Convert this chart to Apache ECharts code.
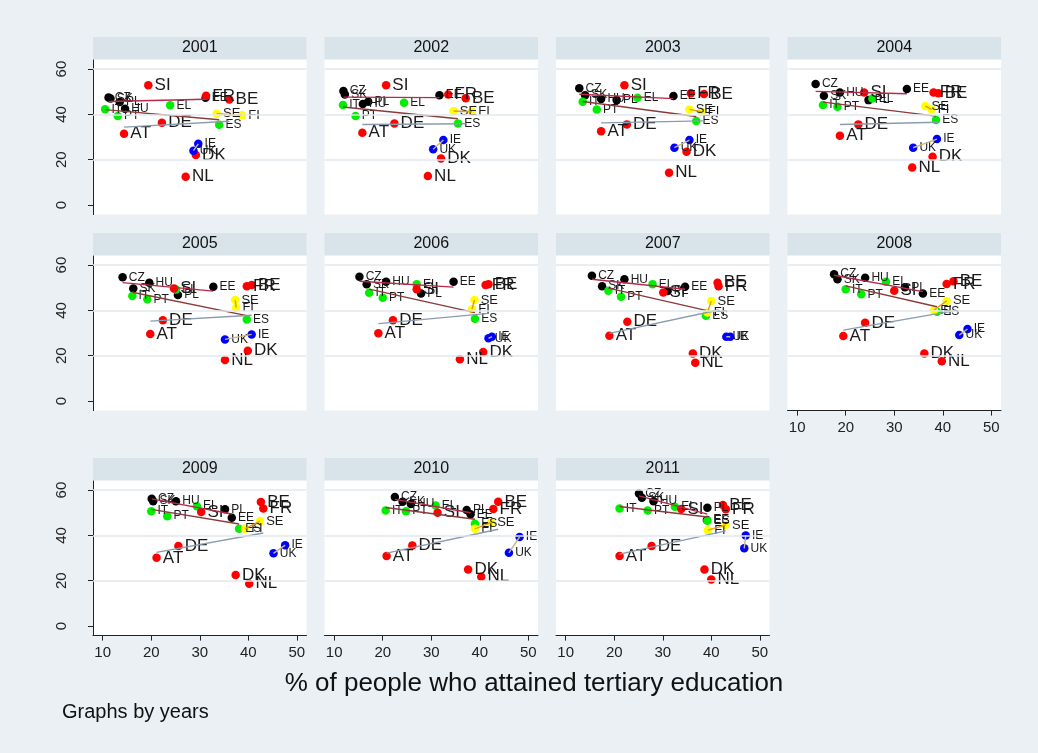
<!DOCTYPE html>
<html>
<head>
<meta charset="utf-8">
<title>Graphs by years</title>
<script src="https://cdn.jsdelivr.net/npm/echarts@6/dist/echarts.min.js"></script>
<style>
  html, body { margin: 0; padding: 0; background: #eaf0f3; }
  #main { width: 1038px; height: 753px; }
</style>
</head>
<body>
<div id="main"></div>
<script>
// panels, one per year
var years = ['2001', '2002', '2003', '2004', '2005', '2006', '2007', '2008', '2009', '2010', '2011'];

// countries and the colour group each one belongs to
var countries = ['CZ', 'SK', 'HU', 'PL', 'EE', 'IT', 'PT', 'EL', 'ES', 'AT', 'BE', 'DE', 'DK', 'FR', 'NL', 'SI', 'SE', 'FI', 'IE', 'UK'];
var groupOf   = ['k', 'k', 'k', 'k', 'k', 'g', 'g', 'g', 'g', 'r', 'r', 'r', 'r', 'r', 'r', 'r', 'y', 'y', 'b', 'b'];

// x: % of people who attained tertiary education (rows = years, cols = countries)
var tertiary = [
  [11.2, 11.6, 14.6, 13.5, 31.2, 10.5, 13.1, 23.9, 34.0, 14.4, 36.1, 22.2, 29.2, 31.3, 27.1, 19.4, 33.5, 38.7, 29.7, 28.7],
  [11.9, 12.2, 15.9, 17.0, 31.7, 11.8, 14.4, 24.4, 35.5, 15.8, 37.1, 22.4, 32.0, 33.5, 29.3, 20.7, 34.6, 38.4, 32.5, 30.4],
  [12.8, 14.0, 17.3, 20.5, 32.2, 13.5, 16.4, 24.8, 36.9, 17.3, 38.5, 22.6, 34.9, 35.8, 31.3, 22.1, 35.5, 38.0, 35.5, 32.4],
  [13.8, 15.5, 18.8, 24.7, 32.6, 15.3, 18.3, 25.5, 38.6, 18.8, 39.1, 22.6, 37.9, 38.1, 33.7, 23.8, 36.4, 37.7, 38.8, 33.9],
  [14.1, 16.3, 19.6, 25.5, 32.8, 16.1, 19.2, 25.1, 39.7, 19.8, 40.7, 22.4, 39.9, 39.7, 35.2, 24.7, 37.3, 37.5, 40.7, 35.2],
  [15.2, 16.7, 20.7, 27.9, 34.6, 17.2, 20.0, 27.0, 39.0, 19.1, 41.8, 22.1, 40.7, 41.2, 35.9, 27.0, 38.9, 38.4, 42.5, 41.8],
  [15.4, 17.5, 22.1, 31.0, 34.6, 18.8, 21.4, 27.9, 38.9, 19.0, 41.3, 22.7, 36.2, 41.5, 36.7, 30.1, 40.0, 39.2, 43.9, 43.1],
  [17.6, 18.3, 24.0, 32.2, 35.9, 20.0, 23.2, 28.3, 38.8, 19.5, 42.2, 24.0, 36.2, 40.8, 39.8, 30.0, 40.8, 38.2, 45.1, 43.4],
  [20.1, 20.4, 25.1, 35.2, 36.6, 20.0, 23.3, 29.4, 38.1, 21.1, 42.6, 25.6, 37.4, 43.1, 40.2, 30.3, 42.4, 39.3, 47.6, 45.2],
  [22.5, 24.1, 25.8, 37.3, 38.1, 20.6, 24.8, 30.9, 39.0, 20.8, 43.8, 26.1, 37.6, 42.8, 40.3, 31.3, 42.3, 39.0, 48.2, 46.0],
  [25.1, 25.7, 28.1, 39.2, 39.1, 21.1, 26.9, 32.5, 39.2, 21.1, 42.4, 27.7, 38.6, 43.0, 40.0, 33.8, 43.0, 39.3, 47.1, 46.8]
];

// y values (rows = years, cols = countries)
var outcome = [
  [47.5, 47.0, 42.5, 45.5, 47.3, 42.3, 39.3, 44.0, 35.4, 31.5, 46.6, 36.3, 22.1, 48.2, 12.5, 52.9, 40.3, 39.6, 27.0, 24.0],
  [50.3, 48.8, 44.6, 45.6, 48.5, 44.1, 39.3, 45.1, 36.0, 31.9, 47.1, 36.0, 20.6, 48.8, 12.8, 52.9, 41.5, 41.2, 28.7, 24.6],
  [51.5, 48.5, 46.8, 46.3, 48.1, 45.6, 42.2, 47.3, 37.1, 32.6, 49.0, 35.6, 23.5, 49.3, 14.3, 52.9, 42.2, 41.2, 28.7, 25.3],
  [53.4, 48.2, 49.7, 46.3, 51.2, 44.1, 43.4, 47.0, 37.5, 30.6, 49.3, 35.6, 21.3, 49.7, 16.6, 49.7, 43.7, 42.2, 29.1, 25.3],
  [54.6, 49.7, 52.2, 46.8, 50.4, 46.4, 44.9, 49.2, 36.0, 29.6, 51.2, 35.7, 22.2, 50.7, 18.1, 49.7, 44.6, 41.2, 29.4, 27.2],
  [54.8, 51.5, 52.6, 47.5, 52.6, 47.8, 45.6, 51.5, 36.3, 29.9, 51.5, 35.7, 21.7, 51.2, 18.5, 49.3, 44.6, 40.5, 28.4, 27.7],
  [55.3, 50.7, 53.7, 48.6, 50.4, 48.7, 46.0, 51.5, 37.6, 28.8, 52.2, 35.0, 21.0, 50.7, 16.9, 47.9, 44.1, 39.1, 28.4, 28.4],
  [56.0, 53.7, 54.4, 50.2, 47.5, 49.3, 47.1, 52.6, 39.4, 28.7, 52.9, 34.5, 21.0, 51.6, 17.6, 48.7, 44.2, 40.1, 31.8, 29.1],
  [56.2, 55.1, 55.1, 51.5, 47.8, 50.7, 48.5, 52.9, 42.9, 30.1, 54.7, 35.3, 22.5, 51.9, 18.7, 50.3, 46.3, 42.9, 35.7, 32.1],
  [56.9, 54.8, 53.9, 51.2, 49.3, 51.0, 50.7, 53.2, 45.1, 30.9, 54.8, 35.6, 25.0, 51.7, 21.8, 50.0, 45.6, 42.9, 39.3, 32.3],
  [58.5, 56.6, 55.1, 52.2, 46.8, 51.9, 51.0, 52.6, 46.5, 30.9, 53.4, 35.3, 25.0, 51.5, 20.6, 51.7, 44.6, 42.3, 40.0, 34.3]
];

var xTicks = [10, 20, 30, 40, 50];
var yTicks = [0, 20, 40, 60];

// group styling
var groupKeys   = ['k', 'g', 'r', 'y', 'b'];
var markerColor = ['#000000', '#00ee00', '#ff0000', '#ffff00', '#0000ff'];
var fitColor    = ['#b52a4a', '#8b3a3a', '#8a9bb0', '#e69a1e', '#c9b887'];
var labelSize   = [12, 12, 17, 13, 12];

var FONT = "'Liberation Sans', Arial, sans-serif";

// panel geometry
var colLeft = [93, 324.5, 556, 787.5];
var rowTop = [60, 256, 481];
var panelW = 213.5, panelH = 154.6;

// straight-line fit over the group's x range
function lfit(pts) {
  var n = pts.length, sx = 0, sy = 0;
  pts.forEach(function (p) { sx += p.value[0]; sy += p.value[1]; });
  var mx = sx / n, my = sy / n, sxx = 0, sxy = 0;
  var lo = Infinity, hi = -Infinity;
  pts.forEach(function (p) {
    sxx += (p.value[0] - mx) * (p.value[0] - mx);
    sxy += (p.value[0] - mx) * (p.value[1] - my);
    lo = Math.min(lo, p.value[0]);
    hi = Math.max(hi, p.value[0]);
  });
  var b = sxx ? sxy / sxx : 0, a = my - b * mx;
  return [[lo, a + b * lo], [hi, a + b * hi]];
}

var grids = [], xAxes = [], yAxes = [], series = [], graphics = [];

years.forEach(function (yr, i) {
  var c = i % 4, r = Math.floor(i / 4);
  var showX = (i >= 7);
  var showY = (c === 0);

  grids.push({
    left: colLeft[c], top: rowTop[r], width: panelW, height: panelH,
    show: true, backgroundColor: '#ffffff', borderWidth: 0
  });

  // header strip
  graphics.push({
    type: 'rect', silent: true,
    shape: { x: colLeft[c], y: rowTop[r] - 23, width: panelW, height: 22 },
    style: { fill: '#d9e4ea' }
  });
  graphics.push({
    type: 'text', silent: true,
    x: colLeft[c] + panelW / 2, y: rowTop[r] - 12,
    style: { text: yr, font: '16px ' + FONT, fill: '#111', textAlign: 'center', textVerticalAlign: 'middle' }
  });

  xAxes.push({
    gridIndex: i, type: 'value', min: 8, max: 52,
    axisLine: { show: showX, onZero: false, lineStyle: { color: '#222', width: 1 } },
    axisTick: { show: showX, length: 5, customValues: xTicks, lineStyle: { color: '#222' } },
    axisLabel: { show: showX, customValues: xTicks, margin: 10, fontSize: 15, color: '#222', fontFamily: FONT },
    splitLine: { show: false }
  });
  yAxes.push({
    gridIndex: i, type: 'value', min: -4.2, max: 64,
    axisLine: { show: showY, onZero: false, lineStyle: { color: '#222', width: 1 } },
    axisTick: { show: showY, length: 5, customValues: yTicks, lineStyle: { color: '#222' } },
    axisLabel: { show: showY, customValues: yTicks, rotate: 90, margin: 24, fontSize: 15, color: '#222', fontFamily: FONT },
    splitLine: { show: false }
  });

  // grid lines
  series.push({
    type: 'line', xAxisIndex: i, yAxisIndex: i, data: [], silent: true, z: 1,
    markLine: {
      silent: true, symbol: 'none', animation: false,
      label: { show: false },
      lineStyle: { color: '#e1e9ee', width: 1.5, type: 'solid' },
      data: [{ yAxis: 20 }, { yAxis: 40 }, { yAxis: 60 }]
    }
  });

  groupKeys.forEach(function (g, k) {
    var pts = [];
    countries.forEach(function (cn, j) {
      if (groupOf[j] === g) pts.push({ name: cn, value: [tertiary[i][j], outcome[i][j]] });
    });
    series.push({
      type: 'scatter', xAxisIndex: i, yAxisIndex: i, data: pts,
      symbolSize: 8.5, z: 3,
      itemStyle: { color: markerColor[k], opacity: 1 },
      label: {
        show: true, position: 'right', distance: 2, formatter: '{b}',
        fontSize: labelSize[k], color: '#1a1a1a', fontFamily: FONT
      },
      emphasis: { disabled: true }
    });
    series.push({
      type: 'line', xAxisIndex: i, yAxisIndex: i, data: lfit(pts),
      symbol: 'none', z: 4, silent: true,
      lineStyle: { color: fitColor[k], width: 1.4 },
      emphasis: { disabled: true }
    });
  });
});

graphics.push({
  type: 'text', silent: true, x: 534, y: 684,
  style: { text: '% of people who attained tertiary education', font: '26px ' + FONT, fill: '#111', textAlign: 'center', textVerticalAlign: 'middle' }
});
graphics.push({
  type: 'text', silent: true, x: 62, y: 712,
  style: { text: 'Graphs by years', font: '20px ' + FONT, fill: '#111', textAlign: 'left', textVerticalAlign: 'middle' }
});

var myChart = echarts.init(document.getElementById('main'));
myChart.setOption({
  backgroundColor: '#eaf0f3',
  animation: false,
  grid: grids,
  xAxis: xAxes,
  yAxis: yAxes,
  series: series,
  graphic: graphics
});
</script>
</body>
</html>
